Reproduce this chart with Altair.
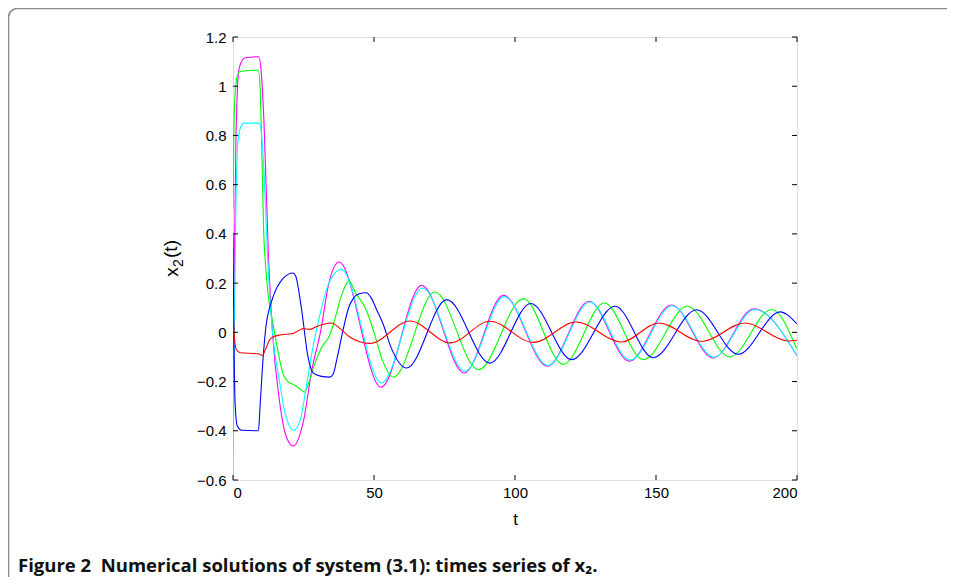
import altair as alt
import pandas as pd
import math

# ---- data (t, x2) ----
magenta_t = [0, 0.5, 1, 1.5, 2, 3, 4, 9.2, 10, 11, 12.6, 14, 16.5, 18.5, 21.3, 25, 28, 31, 34, 37.6,
             52.5, 66.9, 82.0, 95.9, 111.5, 126.3, 140.5, 155.5, 170.3, 184.7, 199.9]
magenta_v = [-0.4, 0.3, 0.75, 0.97, 1.06, 1.10, 1.115, 1.12, 1.06, 0.85, 0.3, 0.0, -0.28, -0.41, -0.462, -0.36, -0.15, 0.0, 0.2, 0.286,
             -0.223, 0.191, -0.165, 0.15, -0.138, 0.126, -0.117, 0.111, -0.104, 0.096, -0.093]

cyan_t = [0, 0.5, 1, 1.5, 2, 3, 4, 9.3, 10.2, 11.2, 12.3, 14, 16.5, 18.5, 21.6, 24, 26, 28.5, 31, 34, 38.4,
          52.6, 67.2, 82.3, 96.2, 111.7, 126.6, 140.8, 155.8, 170.5, 185.0, 200]
cyan_v = [-0.6, 0.0, 0.5, 0.72, 0.8, 0.84, 0.85, 0.85, 0.8, 0.6, 0.3, 0.0, -0.2, -0.33, -0.398, -0.35, -0.22, -0.05, 0.08, 0.2, 0.256,
          -0.206, 0.18, -0.158, 0.145, -0.135, 0.123, -0.113, 0.108, -0.101, 0.093, -0.095]

green_t = [0, 0.3, 0.8, 1.5, 2.5, 9.0, 9.6, 10.2, 10.9, 11.5, 12.5, 14.2, 16, 17.7, 19.5, 21.9, 23.5, 25.4, 27, 29, 31.5, 34.3, 36,
           38.5, 41.1, 43.5, 47.3, 50, 53.2, 56.9, 71.6, 87.0, 103.0, 117.1, 131.7, 145.5, 161.2, 176.2, 191.0, 199.9]
green_v = [0.5, 0.8, 0.98, 1.04, 1.06, 1.065, 1.0, 0.75, 0.4, 0.28, 0.15, 0.035, -0.08, -0.167, -0.2, -0.215, -0.228, -0.243, -0.2, -0.127, -0.06, -0.012, 0.049,
           0.15, 0.209, 0.16, 0.09, 0.0, -0.12, -0.182, 0.164, -0.152, 0.137, -0.13, 0.119, -0.111, 0.106, -0.1, 0.093, -0.066]

blue_t = [0, 0.3, 0.8, 1.5, 3, 9.0, 9.6, 10.7, 11.8, 13, 14.2, 17.7, 21.3, 22.2, 24.2, 26.6, 28.4, 31, 34.3, 35.5, 37, 39, 41,
          42.6, 45, 47.3, 49, 51, 53.2, 56, 61.6, 75.8, 91.1, 105.6, 120.1, 135.5, 149.0, 164.4, 179.2, 194.0, 199.9]
blue_v = [0.4, 0.0, -0.3, -0.38, -0.398, -0.4, -0.3, -0.1, 0.035, 0.1, 0.144, 0.218, 0.241, 0.23, 0.103, -0.1, -0.165, -0.178, -0.182, -0.17, -0.1, 0.008, 0.1,
          0.137, 0.158, 0.161, 0.14, 0.09, 0.035, -0.06, -0.145, 0.133, -0.125, 0.117, -0.111, 0.106, -0.103, 0.092, -0.089, 0.083, 0.035]

red_t = [0, 0.5, 1.2, 2.5, 9, 10.4, 11.5, 13, 14.2, 17, 21.3, 23, 24.8, 27.2, 30, 34.9, 38, 41.4, 48.5,
         62.8, 77.0, 91.1, 106.5, 121.6, 137.8, 151.0, 166.2, 181.6, 196.9, 200]
red_v = [0.1, -0.02, -0.07, -0.083, -0.087, -0.094, -0.07, -0.03, -0.019, -0.01, -0.005, 0.005, 0.015, 0.012, 0.025, 0.038, 0.015, -0.019, -0.045,
         0.046, -0.043, 0.045, -0.041, 0.042, -0.039, 0.038, -0.037, 0.038, -0.035, -0.032]

series = [
    ("magenta", magenta_t, magenta_v, "#ff00ff"),
    ("green", green_t, green_v, "#00ff00"),
    ("cyan", cyan_t, cyan_v, "#00ffff"),
    ("blue", blue_t, blue_v, "#0000ff"),
    ("red", red_t, red_v, "#ff0000"),
]

x_ticks = [0, 50, 100, 150, 200]
y_ticks = [-0.6, -0.4, -0.2, 0, 0.2, 0.4, 0.6, 0.8, 1.0, 1.2]
caption_text = "Figure 2\u00a0\u00a0Numerical solutions of system (3.1): times series of x\u2082."
ytitle_parts = ["x", "2", "(t)"]

W, H = 564, 443
FONT = "Liberation Sans"

xscale = alt.Scale(domain=[0, 200], nice=False, zero=False)
yscale = alt.Scale(domain=[-0.6, 1.2], nice=False, zero=False)

xaxis = alt.Axis(values=x_ticks, format="d", ticks=False, domain=False, grid=False,
                 labelPadding=5, labelFontSize=15, labelFont=FONT, labelColor="#000",
                 titleFont=FONT, titleFontSize=17, titleFontWeight="normal", titleColor="#000",
                 titleX=W / 2, titleY=44, titleBaseline="alphabetic", titleAlign="center")
yaxis = alt.Axis(values=y_ticks, format="~g", ticks=False, domain=False, grid=False,
                 labelPadding=7, labelFontSize=15, labelFont=FONT, labelColor="#000", title=None)

def X(field):
    return alt.X(field, scale=xscale, title="t", axis=xaxis)

def Y(field):
    return alt.Y(field, scale=yscale, title=None, axis=yaxis)

layers = []

# figure frame (decoration): left and top edges plus a rounded corner
FL, FT, R = -224.5, -28.5, 9
one = pd.DataFrame({"a": [0]})
frame_style = dict(color="#8a8a8a", strokeWidth=1.6)
layers.append(alt.Chart(one).mark_rule(**frame_style).encode(
    x=alt.value(FL), y=alt.value(FT + R), y2=alt.value(H + 300)))
layers.append(alt.Chart(one).mark_rule(**frame_style).encode(
    x=alt.value(FL + R), x2=alt.value(W + 400), y=alt.value(FT)))
layers.append(alt.Chart(one).mark_arc(color="#8a8a8a", innerRadius=R - 0.8, outerRadius=R + 0.8).encode(
    x=alt.value(FL + R), y=alt.value(FT + R),
    theta=alt.value(1.5 * math.pi), theta2=alt.value(2 * math.pi)))

for name, ts, vs, col in series:
    df = pd.DataFrame({"t": ts, "v": vs})
    line = alt.Chart(df).mark_line(interpolate="monotone", strokeWidth=1.1, color=col, clip=True).encode(
        x=X("t:Q"), y=Y("v:Q"), order="t:Q")
    layers.append(line)

# inward ticks on all four sides
ydf = pd.DataFrame({"v": y_ticks})
xdf = pd.DataFrame({"t": x_ticks})
tick_style = dict(color="#000", strokeWidth=1)
layers.append(alt.Chart(ydf).mark_rule(**tick_style).encode(
    y=Y("v:Q"), x=alt.value(0), x2=alt.value(5)))
layers.append(alt.Chart(ydf).mark_rule(**tick_style).encode(
    y=Y("v:Q"), x=alt.value(W - 5), x2=alt.value(W)))
layers.append(alt.Chart(xdf).mark_rule(**tick_style).encode(
    x=X("t:Q"), y=alt.value(H - 5), y2=alt.value(H)))
layers.append(alt.Chart(xdf).mark_rule(**tick_style).encode(
    x=X("t:Q"), y=alt.value(0), y2=alt.value(5)))

# y-axis title x_2(t), rotated, with a MATLAB-like subscript
ytitle_style = dict(font=FONT, color="#000", angle=270, align="center", baseline="middle")
layers.append(alt.Chart(pd.DataFrame({"s": [ytitle_parts[0]]})).mark_text(fontSize=19, **ytitle_style).encode(
    text="s:N", x=alt.value(-61), y=alt.value(235)))
layers.append(alt.Chart(pd.DataFrame({"s": [ytitle_parts[1]]})).mark_text(fontSize=14, **ytitle_style).encode(
    text="s:N", x=alt.value(-54), y=alt.value(226)))
layers.append(alt.Chart(pd.DataFrame({"s": [ytitle_parts[2]]})).mark_text(fontSize=19, **ytitle_style).encode(
    text="s:N", x=alt.value(-62), y=alt.value(212)))

caption = alt.Chart(pd.DataFrame({"c": [caption_text]})).mark_text(
    align="left", baseline="alphabetic", font="Open Sans", fontWeight="bold", fontSize=18.5, color="#111"
).encode(text="c:N", x=alt.value(-215), y=alt.value(535))
layers.append(caption)

chart = alt.layer(*layers).properties(
    width=W, height=H,
    autosize=alt.AutoSizeParams(type="none"),
    padding={"left": 225, "top": 29, "right": 150, "bottom": 97},
).configure_view(stroke="#000", strokeWidth=1).configure(background="white")

chart.save("out.html", embed_options={"renderer": "svg", "actions": False})
